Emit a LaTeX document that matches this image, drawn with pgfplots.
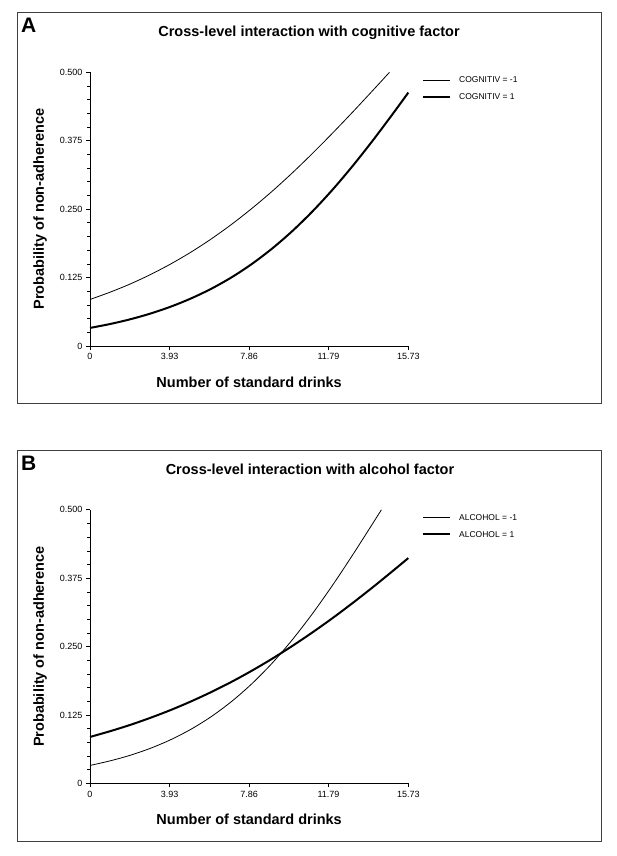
\documentclass[border=0pt]{standalone}
\usepackage{fontspec}
\setmainfont{Liberation Sans}
\usepackage{pgfplots}
\pgfplotsset{compat=1.18}
\pgfplotsset{
  panel/.style={
    scale only axis, width=318.3pt, height=273.7pt, anchor=south west,
    axis lines=left, axis line style={-, line width=0.8pt},
    xmin=0, xmax=15.73, ymin=0, ymax=0.5,
    xtick={0,3.93,7.86,11.79,15.73}, xticklabels={0,3.93,7.86,11.79,15.73},
    ytick={0,0.125,0.25,0.375,0.5}, yticklabels={0,0.125,0.250,0.375,0.500},
    minor x tick num=4, minor y tick num=4,
    tick align=outside, major tick length=4pt, minor tick length=3pt,
    tick style={black, line width=0.7pt},
    tick label style={font=\fontsize{9}{10}\selectfont},
    /pgf/number format/assume math mode=true,
    xlabel={Number of standard drinks}, ylabel={Probability of non-adherence},
    every axis x label/.style={at={(axis description cs:0.5,-0.1315)}, anchor=center,
      font=\fontsize{14.5}{16}\selectfont\bfseries},
    every axis y label/.style={at={(axis description cs:-0.157,0.5)}, anchor=center, rotate=90,
      font=\fontsize{14.5}{16}\selectfont\bfseries},
    clip=false,
  },
  thinline/.style={black, line width=0.8pt, no marks, smooth},
  thickline/.style={black, line width=2pt, no marks, smooth},
}
\begin{document}
\begin{tikzpicture}[x=1pt, y=1pt]
\path[use as bounding box] (0,0) rectangle (616,856);

% panel A
\draw[black!75, line width=1pt] (17,452) rectangle (601,843);
\node[anchor=base west, font=\fontsize{21}{24}\selectfont\bfseries, inner sep=0pt] at (21,823) {A};
\node[anchor=base, font=\fontsize{14.5}{16}\selectfont\bfseries, inner sep=0pt] at (309,819) {Cross-level interaction with cognitive factor};
\begin{axis}[panel, at={(90pt,510pt)}]
\addplot[thinline] coordinates {(0,0.0850) (1,0.0984) (2,0.1135) (3,0.1307) (4,0.1501) (5,0.1717) (6,0.1958) (7,0.2223) (8,0.2513) (9,0.2826) (10,0.3163) (11,0.3520) (12,0.3894) (13,0.4281) (14,0.4678) (14.8,0.5000)};
\addplot[thickline] coordinates {(0,0.0330) (1,0.0402) (2,0.0489) (3,0.0594) (4,0.0720) (5,0.0870) (6,0.1047) (7,0.1255) (8,0.1499) (9,0.1780) (10,0.2100) (11,0.2461) (12,0.2861) (13,0.3298) (14,0.3766) (15,0.4259) (15.73,0.4629)};
\end{axis}
\draw[black, line width=0.8pt] (423,776) -- (450,776);
\draw[black, line width=2pt] (423,759) -- (450,759);
\node[anchor=west, font=\fontsize{8.5}{10}\selectfont, inner sep=0pt] at (459,776) {COGNITIV = -1};
\node[anchor=west, font=\fontsize{8.5}{10}\selectfont, inner sep=0pt] at (459,759) {COGNITIV = 1};

% panel B
\draw[black!75, line width=1pt] (17,14.5) rectangle (601,405.5);
\node[anchor=base west, font=\fontsize{21}{24}\selectfont\bfseries, inner sep=0pt] at (21,385.5) {B};
\node[anchor=base, font=\fontsize{14.5}{16}\selectfont\bfseries, inner sep=0pt] at (310,381.5) {Cross-level interaction with alcohol factor};
\begin{axis}[panel, at={(90pt,72.5pt)}]
\addplot[thinline] coordinates {(0,0.0330) (1,0.0414) (2,0.0517) (3,0.0645) (4,0.0802) (5,0.0993) (6,0.1224) (7,0.1499) (8,0.1823) (9,0.2198) (10,0.2627) (11,0.3106) (12,0.3629) (13,0.4187) (14,0.4766) (14.4,0.5000)};
\addplot[thickline] coordinates {(0,0.0850) (1,0.0956) (2,0.1072) (3,0.1202) (4,0.1344) (5,0.1501) (6,0.1672) (7,0.1858) (8,0.2061) (9,0.2279) (10,0.2513) (11,0.2762) (12,0.3025) (13,0.3303) (14,0.3593) (15,0.3894) (15.73,0.4118)};
\end{axis}
\draw[black, line width=0.8pt] (423,338.5) -- (450,338.5);
\draw[black, line width=2pt] (423,321.5) -- (450,321.5);
\node[anchor=west, font=\fontsize{8.5}{10}\selectfont, inner sep=0pt] at (459,338.5) {ALCOHOL = -1};
\node[anchor=west, font=\fontsize{8.5}{10}\selectfont, inner sep=0pt] at (459,321.5) {ALCOHOL = 1};
\end{tikzpicture}
\end{document}
